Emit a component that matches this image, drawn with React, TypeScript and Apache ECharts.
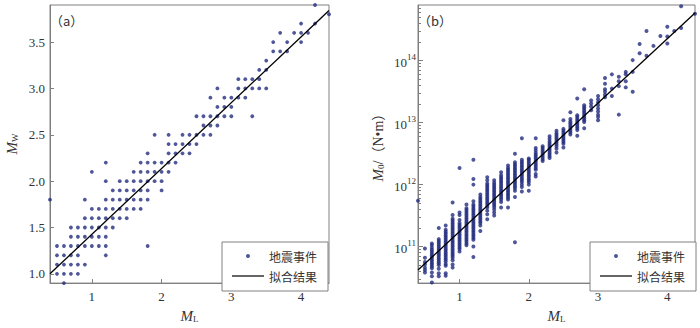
import React, { useEffect, useRef } from 'react';
import * as echarts from 'echarts';

// ---------- data ----------
const xTicks = [1, 2, 3, 4];
const mwTicks = [1.0, 1.5, 2.0, 2.5, 3.0, 3.5];
const m0Exponents = [11, 12, 13, 14];
const minorMultipliers = [2, 3, 4, 5, 6, 7, 8, 9];
const minorDecades = [10, 11, 12, 13, 14];

// panel (a): Mw levels and the ML values of events at each level
const mwLevels = [0.9, 1.0, 1.1, 1.2, 1.3, 1.4, 1.5, 1.6, 1.7, 1.8, 1.9, 2.0, 2.1, 2.2, 2.3, 2.4, 2.5, 2.6, 2.7, 2.8, 2.9, 3.0, 3.1, 3.2, 3.3, 3.4, 3.5, 3.6, 3.7, 3.8, 3.9];
const mlAtMw = [
  [0.6],
  [0.5, 0.6, 0.7, 0.8],
  [0.5, 0.6, 0.7, 0.8, 0.9],
  [0.5, 0.6, 0.7, 0.8, 1.2],
  [0.5, 0.6, 0.7, 0.8, 0.9, 1.0, 1.1, 1.2, 1.8],
  [0.7, 0.8, 0.9, 1.0, 1.1, 1.2],
  [0.7, 0.8, 0.9, 1.0, 1.1, 1.2, 1.3],
  [0.9, 1.0, 1.1, 1.2, 1.3, 1.4, 1.5],
  [1.0, 1.1, 1.2, 1.3, 1.4, 1.5, 1.6, 1.7],
  [0.4, 0.9, 1.2, 1.3, 1.4, 1.5, 1.6, 1.7, 1.8],
  [1.3, 1.4, 1.5, 1.6, 1.7, 1.8, 2.0],
  [1.2, 1.4, 1.5, 1.6, 1.7, 1.8, 1.9, 2.0],
  [1.0, 1.6, 1.7, 1.8, 1.9, 2.0, 2.1],
  [1.2, 1.7, 1.8, 1.9, 2.0, 2.1, 2.2],
  [1.8, 2.1, 2.2, 2.3, 2.4],
  [2.1, 2.2, 2.3, 2.4, 2.5],
  [1.9, 2.1, 2.3, 2.4, 2.5, 2.6, 2.7],
  [2.6, 2.7, 2.8],
  [2.5, 2.6, 2.7, 2.8, 2.9, 3.0, 3.3],
  [2.8, 2.9, 3.0],
  [2.7, 2.9, 3.0, 3.1, 3.2],
  [2.8, 3.1, 3.2, 3.3, 3.4, 3.5],
  [3.1, 3.2, 3.3, 3.4],
  [3.4, 3.5],
  [3.5],
  [3.6, 3.7, 3.8],
  [3.6, 3.8, 4.0],
  [3.7, 3.9, 4.0, 4.1],
  [4.0, 4.2],
  [4.4],
  [4.2],
];
const fitA_ML = [0.4, 4.4];
const fitA_Mw = [1.0, 3.84];

// panel (b): ML columns and log10(M0 / N·m) of events in each column
const m0ColumnML = [0.4, 0.5, 0.6, 0.7, 0.8, 0.9, 1.0, 1.1, 1.2, 1.3, 1.4, 1.5, 1.6, 1.7, 1.8, 1.9, 2.0, 2.1, 2.2, 2.3, 2.4, 2.5, 2.6, 2.7, 2.8, 2.9, 3.0, 3.1, 3.2, 3.3, 3.4, 3.5, 3.6, 3.7, 3.8, 3.9, 4.0, 4.1, 4.2, 4.4];
const m0ColumnLog = [
  [11.74],
  [10.97, 10.82, 10.75, 10.71, 10.66, 10.62, 10.58],
  [11.05, 11.02, 10.98, 10.95, 10.92, 10.89, 10.86, 10.83, 10.8, 10.77, 10.74, 10.71, 10.68, 10.65, 10.58, 10.52, 10.42],
  [11.3, 11.12, 11.09, 11.06, 11.03, 11.0, 10.97, 10.94, 10.91, 10.88, 10.85, 10.82, 10.79, 10.76, 10.73, 10.7, 10.64, 10.57, 10.52],
  [11.34, 11.27, 11.24, 11.21, 11.18, 11.15, 11.12, 11.09, 11.06, 11.03, 11.0, 10.97, 10.94, 10.91, 10.88, 10.85, 10.82, 10.79, 10.76, 10.72, 10.69, 10.57, 10.53],
  [11.71, 11.51, 11.45, 11.42, 11.39, 11.36, 11.33, 11.3, 11.27, 11.24, 11.21, 11.18, 11.15, 11.12, 11.09, 11.06, 11.03, 11.0, 10.97, 10.94, 10.91, 10.88, 10.85, 10.82, 10.78, 10.71, 10.66],
  [12.27, 11.55, 11.51, 11.43, 11.38, 11.35, 11.32, 11.29, 11.26, 11.23, 11.2, 11.17, 11.14, 11.11, 11.08, 11.05, 11.02, 10.99, 10.96, 10.92],
  [11.68, 11.62, 11.59, 11.56, 11.53, 11.5, 11.47, 11.44, 11.41, 11.38, 11.35, 11.32, 11.29, 11.26, 11.23, 11.2, 11.17, 11.14, 11.11, 11.08, 11.05, 11.02],
  [12.4, 12.09, 12.0, 11.73, 11.68, 11.65, 11.62, 11.59, 11.56, 11.53, 11.5, 11.47, 11.44, 11.41, 11.38, 11.35, 11.32, 11.29, 11.26, 11.23, 11.2, 11.17, 11.14, 11.11, 11.0, 10.83],
  [11.84, 11.8, 11.77, 11.74, 11.71, 11.68, 11.65, 11.62, 11.59, 11.56, 11.53, 11.5, 11.47, 11.44, 11.41, 11.38, 11.34, 11.25],
  [12.12, 12.07, 12.02, 11.99, 11.96, 11.93, 11.9, 11.87, 11.84, 11.81, 11.78, 11.75, 11.72, 11.69, 11.66, 11.63, 11.58, 11.52, 11.44],
  [12.07, 12.03, 12.0, 11.97, 11.94, 11.91, 11.88, 11.85, 11.82, 11.79, 11.76, 11.73, 11.7, 11.67, 11.64, 11.6, 11.55, 11.5],
  [12.2, 12.15, 12.12, 12.09, 12.06, 12.03, 12.0, 11.97, 11.94, 11.91, 11.88, 11.85, 11.82, 11.79, 11.76, 11.72, 11.63],
  [12.31, 12.27, 12.24, 12.21, 12.18, 12.15, 12.12, 12.09, 12.06, 12.03, 12.0, 11.97, 11.94, 11.91, 11.88, 11.85, 11.82, 11.79, 11.76, 11.63],
  [12.5, 12.36, 12.33, 12.3, 12.27, 12.24, 12.21, 12.18, 12.15, 12.12, 12.09, 12.06, 12.03, 12.0, 11.97, 11.94, 11.9, 11.8, 11.07],
  [12.75, 12.4, 12.37, 12.34, 12.31, 12.28, 12.25, 12.22, 12.19, 12.16, 12.13, 12.1, 12.07, 12.04, 12.0, 11.96, 11.89],
  [12.42, 12.4, 12.37, 12.34, 12.31, 12.28, 12.25, 12.22, 12.19, 12.16, 12.13, 12.1, 12.07, 12.04, 12.0, 11.9],
  [12.75, 12.59, 12.55, 12.51, 12.48, 12.45, 12.42, 12.39, 12.36, 12.33, 12.3, 12.27, 12.24, 12.17, 12.13],
  [12.62, 12.59, 12.56, 12.53, 12.5, 12.47, 12.44, 12.41, 12.38],
  [12.78, 12.74, 12.7, 12.67, 12.64, 12.61, 12.58, 12.55, 12.52, 12.49, 12.46, 12.43],
  [12.87, 12.83, 12.8, 12.77, 12.74, 12.71, 12.68, 12.65, 12.62, 12.58, 12.52],
  [13.04, 12.9, 12.87, 12.84, 12.81, 12.78, 12.75, 12.72, 12.69, 12.66, 12.6],
  [13.17, 13.06, 13.02, 12.99, 12.96, 12.93, 12.9, 12.87, 12.84, 12.81],
  [13.39, 13.12, 13.09, 13.06, 13.03, 13.0, 12.97, 12.94, 12.91, 12.88, 12.79],
  [13.54, 13.28, 13.25, 13.22, 13.19, 13.16, 13.13, 13.1, 13.07, 13.04, 13.01, 12.91],
  [13.36, 13.31, 13.26, 13.2],
  [13.43, 13.38, 13.33, 13.28, 13.23, 13.18, 13.13, 13.09, 13.04],
  [13.72, 13.63, 13.54, 13.5, 13.45, 13.41],
  [13.78, 13.55, 13.43],
  [13.74, 13.67, 13.59, 13.13],
  [13.82, 13.78, 13.67, 13.57],
  [14.01, 13.82, 13.5],
  [14.27, 14.12],
  [14.48, 14.08],
  [14.24],
  [14.4],
  [14.55, 14.39, 14.28],
  [14.48],
  [14.88, 14.53],
  [14.76],
];
const fitB_ML = [0.4, 4.4];
const fitB_Log = [10.62, 14.77];

const seriesNames = ['地震事件', '拟合结果'];

// ---------- styles ----------
const serif = 'Liberation Serif';
const cjk = 'Noto Sans CJK SC';
const textColor = '#333';
const frame = '#808080';
const dotColor = '#232d80';

const Y_A_MIN = 0.9, Y_A_MAX = 3.9;
const Y_B_MIN = 10.41, Y_B_MAX = 14.9;
const X_MIN = 0.4, X_MAX = 4.4;

const nameRich: any = {
  i: { fontFamily: serif, fontStyle: 'italic', fontSize: 15, color: textColor, lineHeight: 18, verticalAlign: 'bottom' },
  sub: { fontFamily: serif, fontSize: 9, color: textColor, lineHeight: 10, verticalAlign: 'bottom' },
  t: { fontFamily: serif + ', ' + cjk, fontSize: 14, color: textColor, lineHeight: 18, verticalAlign: 'bottom' },
};

function xAxis(gridIndex: number) {
  return {
    gridIndex,
    type: 'value',
    min: X_MIN,
    max: X_MAX,
    axisLine: { show: true, onZero: false, lineStyle: { color: frame, width: 1 } },
    axisTick: { show: true, inside: true, length: 4, customValues: xTicks, lineStyle: { color: frame } },
    axisLabel: { customValues: xTicks, fontFamily: serif, fontSize: 13, color: textColor, margin: 7, formatter: (v: number) => String(v) },
    splitLine: { show: false },
    name: '{i|M}{sub|L}',
    nameLocation: 'middle',
    nameGap: 21,
    nameTextStyle: { rich: nameRich },
  };
}

function legend(left: number) {
  return {
    left,
    top: 242,
    orient: 'vertical',
    data: [
      { name: seriesNames[0], icon: 'circle', itemStyle: { color: dotColor } },
      { name: seriesNames[1], icon: 'path://M0 0H32V1.2H0Z', itemStyle: { color: '#000' } },
    ],
    itemWidth: 32,
    itemHeight: 4,
    itemGap: 6,
    padding: [7, 11, 8, 10],
    backgroundColor: '#fff',
    borderColor: frame,
    borderWidth: 1,
    borderRadius: 0,
    selectedMode: false,
    textStyle: { fontFamily: cjk, fontSize: 12, color: textColor, lineHeight: 14 },
  };
}

export default function App() {
  const ref = useRef<HTMLDivElement>(null);

  useEffect(() => {
    if (!ref.current) return;
    const chart = echarts.init(ref.current, undefined, { renderer: 'svg' });

    const aData: number[][] = [];
    mwLevels.forEach((mw, i) => mlAtMw[i].forEach((ml) => aData.push([ml, mw])));
    const bData: number[][] = [];
    m0ColumnML.forEach((ml, i) => m0ColumnLog[i].forEach((lg) => bData.push([ml, lg])));

    const minorTicks: number[] = [];
    minorDecades.forEach((d) =>
      minorMultipliers.forEach((k) => {
        const v = Math.log10(k) + d;
        if (v > Y_B_MIN && v < Y_B_MAX) minorTicks.push(v);
      })
    );
    const majorB = m0Exponents.filter((v) => v > Y_B_MIN && v < Y_B_MAX);

    chart.setOption({
      animation: false,
      backgroundColor: '#fff',
      title: [
        { text: '（a）', left: 50, top: 14, padding: 0, textStyle: { fontFamily: cjk, fontSize: 13, fontWeight: 'normal', color: textColor } },
        { text: '（b）', left: 418, top: 14, padding: 0, textStyle: { fontFamily: cjk, fontSize: 13, fontWeight: 'normal', color: textColor } },
      ],
      grid: [
        { left: 50, top: 5, width: 279, height: 286, show: true, borderColor: frame, borderWidth: 1, backgroundColor: 'transparent' },
        { left: 418, top: 5, width: 277, height: 286, show: true, borderColor: frame, borderWidth: 1, backgroundColor: 'transparent' },
      ],
      legend: [legend(222), legend(590)],
      xAxis: [xAxis(0), xAxis(1)],
      yAxis: [
        {
          gridIndex: 0,
          type: 'value',
          position: 'left',
          min: Y_A_MIN,
          max: Y_A_MAX,
          axisLine: { show: true, onZero: false, lineStyle: { color: frame } },
          axisTick: { show: true, inside: true, length: 4, customValues: mwTicks, lineStyle: { color: frame } },
          axisLabel: { customValues: mwTicks, fontFamily: serif, fontSize: 13, color: textColor, margin: 5, formatter: (v: number) => v.toFixed(1) },
          splitLine: { show: false },
          name: '{i|M}{sub|W}',
          nameLocation: 'middle',
          nameGap: 31,
          nameTextStyle: { rich: nameRich },
        },
        {
          gridIndex: 1,
          type: 'value',
          position: 'left',
          min: Y_B_MIN,
          max: Y_B_MAX,
          axisLine: { show: true, onZero: false, lineStyle: { color: frame } },
          axisTick: { show: true, inside: true, length: 5, customValues: majorB, lineStyle: { color: frame } },
          axisLabel: {
            customValues: majorB,
            margin: 2,
            formatter: (v: number) => `{b|10}{sup|${v}}`,
            rich: {
              b: { fontFamily: serif, fontSize: 13, color: textColor, lineHeight: 16, verticalAlign: 'bottom' },
              sup: { fontFamily: serif, fontSize: 9, color: textColor, lineHeight: 10, verticalAlign: 'top' },
            },
          },
          splitLine: { show: false },
          name: '{i|M}{sub|0}{t|/（N•m）}',
          nameLocation: 'middle',
          nameGap: 33,
          nameTextStyle: { rich: nameRich },
        },
        {
          gridIndex: 1,
          type: 'value',
          position: 'left',
          min: Y_B_MIN,
          max: Y_B_MAX,
          axisLine: { show: false },
          axisTick: { show: true, inside: true, length: 3, customValues: minorTicks, lineStyle: { color: frame } },
          axisLabel: { show: false },
          splitLine: { show: false },
        },
      ],
      series: [
        {
          name: seriesNames[0],
          type: 'scatter',
          xAxisIndex: 0,
          yAxisIndex: 0,
          data: aData,
          symbol: 'circle',
          symbolSize: 3.8,
          itemStyle: { color: dotColor },
          z: 2,
        },
        {
          name: seriesNames[1],
          type: 'line',
          xAxisIndex: 0,
          yAxisIndex: 0,
          data: fitA_ML.map((x, i) => [x, fitA_Mw[i]]),
          symbol: 'none',
          lineStyle: { color: '#000', width: 1.3 },
          z: 3,
        },
        {
          name: seriesNames[0],
          type: 'scatter',
          xAxisIndex: 1,
          yAxisIndex: 1,
          data: bData,
          symbol: 'circle',
          symbolSize: 4,
          itemStyle: { color: dotColor },
          z: 2,
        },
        {
          name: seriesNames[1],
          type: 'line',
          xAxisIndex: 1,
          yAxisIndex: 1,
          data: fitB_ML.map((x, i) => [x, fitB_Log[i]]),
          symbol: 'none',
          lineStyle: { color: '#000', width: 1.3 },
          z: 3,
        },
      ],
    });

    return () => chart.dispose();
  }, []);

  return <div ref={ref} style={{ position: 'absolute', left: 0, top: 0, width: 700, height: 328 }} />;
}
